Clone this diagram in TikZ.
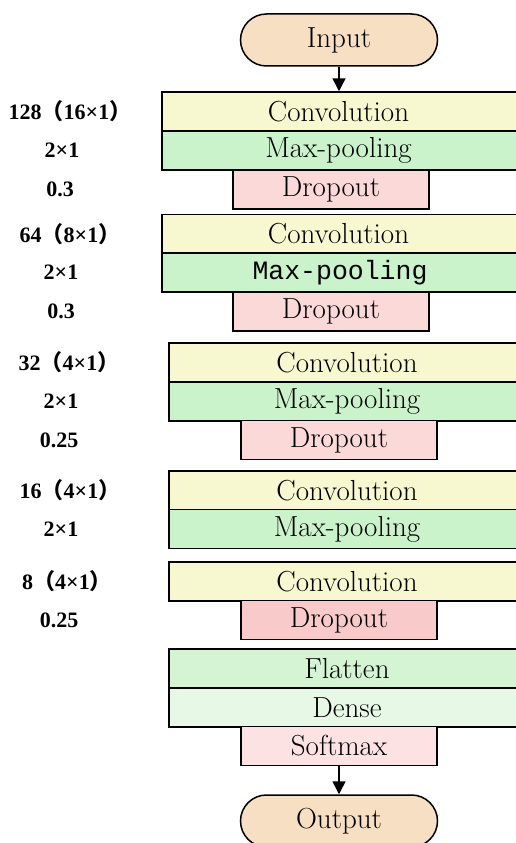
\documentclass[tikz,border=0pt]{standalone}
\usepackage{fontspec}
\newfontfamily\labfont{Liberation Serif}
\newfontfamily\monofont{Liberation Mono}
\newfontfamily\cjk{Noto Sans CJK SC}
\usetikzlibrary{arrows.meta}
\definecolor{cIO}{HTML}{F7DFC3}
\definecolor{cConv}{HTML}{F8F8D0}
\definecolor{cPool}{HTML}{CBF3CB}
\definecolor{cDrop}{HTML}{FBD9D9}
\definecolor{cDropB}{HTML}{F9CACA}
\definecolor{cFlat}{HTML}{D4F4D4}
\definecolor{cDense}{HTML}{E8F8E6}
\definecolor{cSoft}{HTML}{FDE2E4}
\tikzset{
  layer/.style={draw=black, line width=1.5pt, rectangle, inner sep=0pt,
    minimum height=39pt, font=\fontsize{29}{32}\selectfont},
  wide/.style={layer, minimum width=356pt},
  narrow/.style={layer, minimum width=196pt},
  term/.style={draw=black, line width=1.5pt, rounded corners=26pt, inner sep=0pt,
    minimum width=197pt, minimum height=52pt, fill=cIO, font=\fontsize{29}{32}\selectfont},
  lab/.style={font=\labfont\bfseries\fontsize{22}{26}\selectfont, inner sep=0pt},
  flow/.style={line width=1.5pt, -{Triangle[length=13pt,width=13pt]}}
}
\newcommand{\lp}{{\cjk （}}
\newcommand{\rp}{{\cjk ）}}
\begin{document}
\begin{tikzpicture}[x=1pt,y=-1pt]
\useasboundingbox (0,0) rectangle (516,843);
\clip (0,0) rectangle (516,843);
% input
\node[term] (in) at (339,40) {Input};
% block 1
\node[wide, fill=cConv] (c1) at (340,111.5) {\hspace*{-3pt}Convolution};
\node[wide, fill=cPool] (m1) at (340,150.5) {\hspace*{-3pt}Max-pooling};
\node[narrow, fill=cDrop] (d1) at (331,189.5) {Dropout};
% block 2
\node[wide, fill=cConv] (c2) at (340,234) {\hspace*{-3pt}Convolution};
\node[wide, fill=cPool] (m2) at (340,272.5) {\monofont\fontsize{26.5}{30}\selectfont Max-pooling};
\node[narrow, fill=cDrop] (d2) at (331,311.5) {Dropout};
% block 3
\node[wide, fill=cConv] (c3) at (347,362.5) {Convolution};
\node[wide, fill=cPool] (m3) at (347,401.5) {Max-pooling};
\node[narrow, fill=cDrop] (d3) at (339,440) {Dropout};
% block 4
\node[wide, fill=cConv] (c4) at (347,490.5) {Convolution};
\node[wide, fill=cPool] (m4) at (347,529) {Max-pooling};
% block 5
\node[wide, fill=cConv] (c5) at (347,581.5) {Convolution};
\node[narrow, fill=cDropB] (d5) at (339,620) {Dropout};
% block 6
\node[wide, fill=cFlat] (fl) at (347,668.5) {Flatten};
\node[wide, fill=cDense] (de) at (347,707.5) {Dense};
\node[narrow, fill=cSoft] (so) at (339,746) {Softmax};
% output
\node[term] (out) at (339,821) {Output};
% arrows
\draw[flow] (in.south) -- (in.south |- c1.north);
\draw[flow] (so.south) -- (out.north);
% labels
\node[lab] (l1a) at (70,111.5) {128\lp16×1\rp};
\node[lab] (l1b) at (62,150.5) {2×1};
\node[lab] (l1c) at (60,189.5) {0.3};
\node[lab] (l2a) at (70,234) {64\lp8×1\rp};
\node[lab] (l2b) at (61,272.5) {2×1};
\node[lab] (l2c) at (61,311.5) {0.3};
\node[lab] (l3a) at (69,362.5) {32\lp4×1\rp};
\node[lab] (l3b) at (61,401.5) {2×1};
\node[lab] (l3c) at (59,440) {0.25};
\node[lab] (l4a) at (70,490.5) {16\lp4×1\rp};
\node[lab] (l4b) at (61,529) {2×1};
\node[lab] (l5a) at (67,581.5) {8\lp4×1\rp};
\node[lab] (l5b) at (59,620) {0.25};
\end{tikzpicture}
\end{document}
